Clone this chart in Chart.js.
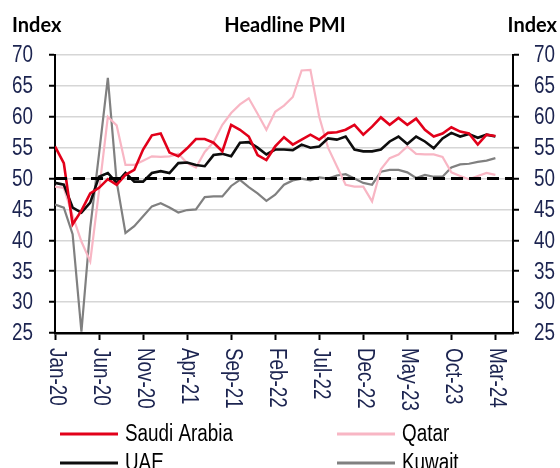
<!DOCTYPE html>
<html>
<head>
<meta charset="utf-8">
<title>Headline PMI</title>
<script src="https://cdn.jsdelivr.net/npm/chart.js@4.4.1/dist/chart.umd.min.js"></script>
<style>
  html, body { margin: 0; padding: 0; background: #fff; }
  #wrap { width: 560px; height: 468px; }
</style>
</head>
<body>
<div id="wrap"><canvas id="pmi" width="560" height="468"></canvas></div>
<script>
/* ── Données ─────────────────────────────────────────────────── */
const tickLabels = ['Jan-20', 'Jun-20', 'Nov-20', 'Apr-21', 'Sep-21', 'Feb-22',
                    'Jul-22', 'Dec-22', 'May-23', 'Oct-23', 'Mar-24'];
const tickStep  = 5;     // un libellé tous les 5 mois
const xMin      = 0;
const xMax      = 52;    // l'axe déborde un peu après Mar-24
const threshold = 50;

const saudi = [55.2, 52.5, 42.6, 44.8, 47.6, 48.5, 49.9, 49.0, 50.6, 51.4,
               54.7, 57.0, 57.3, 54.2, 53.6, 54.9, 56.4, 56.4, 55.8, 54.4,
               58.7, 57.9, 56.8, 53.8, 53.0, 55.2, 56.7, 55.5, 56.3, 57.1,
               56.3, 57.4, 57.5, 57.9, 58.7, 57.1, 58.4, 59.9, 58.7, 59.8,
               58.7, 59.7, 57.9, 56.8, 57.3, 58.3, 57.6, 57.3, 55.5, 57.1, 56.9];
const qatar = [48.7, 48.5, 44.0, 39.8, 36.6, 48.0, 60.0, 58.6, 52.2, 52.2,
               52.9, 53.6, 53.5, 53.6, 54.0, 52.5, 51.8, 54.3, 55.9, 58.7,
               60.6, 62.0, 63.0, 60.5, 57.9, 60.8, 61.8, 63.2, 67.5, 67.6,
               60.0, 55.0, 52.0, 49.0, 48.7, 48.7, 46.3, 51.5, 53.3, 53.9,
               55.2, 54.0, 53.9, 53.9, 53.5, 51.0, 50.4, 49.9, 50.4, 50.9, 50.6];
const uae   = [49.3, 49.0, 45.3, 44.5, 46.1, 50.3, 50.9, 49.3, 50.9, 49.5,
               49.5, 50.9, 51.2, 50.9, 52.5, 52.6, 52.2, 52.0, 53.8, 54.0,
               53.6, 55.8, 55.9, 55.0, 53.9, 54.7, 54.7, 54.6, 55.5, 55.0,
               55.2, 56.5, 56.3, 56.8, 54.7, 54.4, 54.4, 54.7, 56.0, 56.8,
               55.6, 56.8, 56.0, 54.9, 56.5, 57.4, 56.8, 57.2, 56.6, 57.1, 56.8];
const kuwait = [45.8, 45.3, 41.0, 25.2, 42.0, 54.0, 66.3, 49.5, 41.2, 42.3,
                43.9, 45.5, 46.0, 45.3, 44.5, 44.9, 45.0, 47.0, 47.1, 47.1,
                48.8, 49.8, 48.6, 47.6, 46.4, 47.4, 49.0, 49.7, 50.0, 49.7,
                50.2, 50.0, 50.5, 50.7, 50.0, 49.3, 49.0, 51.1, 51.4, 51.4,
                51.0, 50.1, 50.6, 50.3, 50.3, 51.8, 52.3, 52.4, 52.7, 52.9, 53.3];

/* ── Styles ───────────────────────────────────────────────────── */
const SANS     = "'Liberation Sans', Arial, sans-serif";
const NARROW_K = 0.82;          // compression horizontale type "Arial Narrow"
const TICK_CLR = '#1c2450';
const C_SAUDI  = '#e2001a';
const C_QATAR  = '#f8b6c4';
const C_UAE    = '#0d0d0d';
const C_KUWAIT = '#808080';

const toXY = arr => arr.map((v, i) => ({ x: i, y: v }));

const series = [
  { label: 'Saudi Arabia', data: saudi,  color: C_SAUDI,  width: 2.6, order: 1 },
  { label: 'UAE',          data: uae,    color: C_UAE,    width: 2.6, order: 2 },
  { label: 'Qatar',        data: qatar,  color: C_QATAR,  width: 2.2, order: 3 },
  { label: 'Kuwait',       data: kuwait, color: C_KUWAIT, width: 2.2, order: 4 },
];

// texte étroit : on écrase la police dans le sens de lecture
function narrowText(ctx, txt, x, y, align, angle = 0) {
  ctx.save();
  ctx.translate(x, y);
  if (angle) ctx.rotate(angle);
  ctx.scale(NARROW_K, 1);
  ctx.textAlign = align;
  ctx.fillText(txt, 0, 0);
  ctx.restore();
}

/* ── Plugin : titres, libellés d'axes, légende ────────────────── */
const decor = {
  id: 'decor',
  afterDraw(chart) {
    const { ctx, chartArea } = chart;
    const { x, y } = chart.scales;
    ctx.save();

    ctx.fillStyle = '#000';
    ctx.font = "bold 20px Lato, 'Open Sans', sans-serif";
    ctx.textBaseline = 'alphabetic';
    ctx.textAlign = 'left';   ctx.fillText('Index', 12, 32);
    ctx.textAlign = 'center'; ctx.fillText('Headline PMI', 285, 32);
    ctx.textAlign = 'right';  ctx.fillText('Index', 557, 32);

    ctx.font = '23px ' + SANS;
    ctx.textBaseline = 'middle';
    ctx.fillStyle = TICK_CLR;

    // axes Y gauche et droit
    y.ticks.forEach(t => {
      const py = y.getPixelForValue(t.value) + 1;
      narrowText(ctx, String(t.value), chartArea.left - 22, py, 'right');
      narrowText(ctx, String(t.value), chartArea.right + 21, py, 'left');
    });

    // axe X, libellés lus de haut en bas
    x.ticks.forEach(t => {
      const lbl = tickLabels[Math.round(t.value / tickStep)];
      if (!lbl) return;
      narrowText(ctx, lbl, x.getPixelForValue(t.value) + 1, chartArea.bottom + 15, 'left', Math.PI / 2);
    });

    // légende sur deux colonnes
    const cols = [60, 337], rows = [434, 463];
    const items = [series[0], series[2], series[1], series[3]];
    items.forEach((s, k) => {
      const cx = cols[k % 2], cy = rows[Math.floor(k / 2)];
      ctx.strokeStyle = s.color;
      ctx.lineWidth = 3;
      ctx.beginPath(); ctx.moveTo(cx, cy); ctx.lineTo(cx + 58, cy); ctx.stroke();
      ctx.fillStyle = '#000';
      narrowText(ctx, s.label, cx + 65, cy + 1, 'left');
    });
    ctx.restore();
  }
};

/* ── Graphique ────────────────────────────────────────────────── */
const yAxis = (pos, width, onArea) => ({
  position: pos, min: 25, max: 70,
  ticks: { stepSize: 5, display: false },
  grid: { drawOnChartArea: onArea, color: '#d6d6d6', lineWidth: 1.5,
          tickColor: '#000', tickLength: 6, tickWidth: 2 },
  border: { color: '#000', width: 2 },
  afterFit(s) { s.width = width; },
});

new Chart(document.getElementById('pmi'), {
  type: 'line',
  data: {
    datasets: [
      ...series.map(s => ({
        label: s.label, data: toXY(s.data),
        borderColor: s.color, borderWidth: s.width,
        pointRadius: 0, tension: 0, fill: false, order: s.order,
        yAxisID: 'y',
      })),
      {
        label: 'threshold',
        data: [{ x: xMin, y: threshold }, { x: xMax, y: threshold }],
        borderColor: '#000', borderWidth: 3, borderDash: [12, 6],
        pointRadius: 0, order: 0, yAxisID: 'y',
      },
    ],
  },
  options: {
    responsive: false, animation: false,
    layout: { padding: { top: 55, left: 0, right: 0, bottom: 0 } },
    plugins: { legend: { display: false }, tooltip: { enabled: false }, title: { display: false } },
    scales: {
      x: {
        type: 'linear', min: xMin, max: xMax,
        ticks: { stepSize: tickStep, includeBounds: false, display: false },
        grid: { drawOnChartArea: false, tickColor: '#000', tickLength: 7, tickWidth: 2 },
        border: { color: '#000', width: 2.5 },
        afterFit(s) { s.height = 135; },
      },
      y:  yAxis('left', 55, true),
      y2: yAxis('right', 47, false),
    },
  },
  plugins: [decor],
});
</script>
</body>
</html>
